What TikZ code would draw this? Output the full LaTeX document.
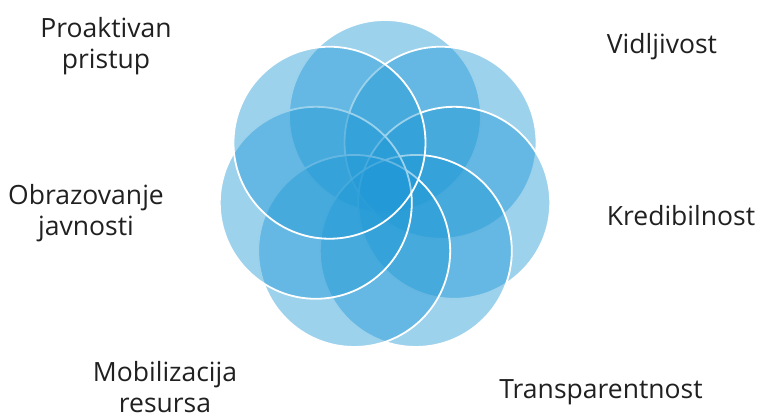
\documentclass[tikz,border=0pt]{standalone}
\usepackage{fontspec}
\setmainfont{Open Sans}
\definecolor{petalblue}{RGB}{31,152,214}
\definecolor{labelgrey}{RGB}{32,32,32}
\tikzset{
  petal/.style={fill=petalblue, fill opacity=0.44, draw=white, line width=1.8pt},
  lbl/.style={text=labelgrey, align=center, inner sep=0pt,
    font=\fontsize{26.5}{31}\selectfont}
}
\begin{document}
\begin{tikzpicture}[x=1pt,y=-1pt]
  \useasboundingbox (0,0) rectangle (761,417);
  \coordinate (mid) at (385,187);

  % seven rings, drawn clockwise from the top one
  \foreach \k in {0,...,6} {
    \draw[petal] (mid) ++({-90+51.4286*\k}:71) circle (96pt);
  }

  \node[lbl] (proaktivan) at (106,46) {Proaktivan\\pristup};
  \node[lbl] (vidljivost) at (662,47) {Vidljivost};
  \node[lbl] (kredibilnost) at (681,216) {Kredibilnost};
  \node[lbl] (transparentnost) at (601,392) {Transparentnost};
  \node[lbl] (mobilizacija) at (165,387) {Mobilizacija\\resursa};
  \node[lbl] (obrazovanje) at (86,213) {Obrazovanje\\javnosti};
\end{tikzpicture}
\end{document}
